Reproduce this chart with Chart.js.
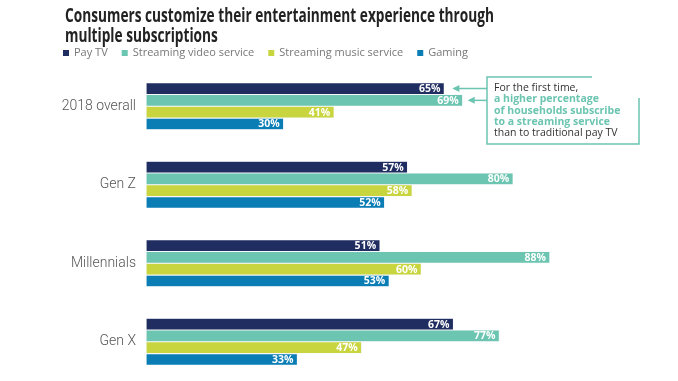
<!DOCTYPE html>
<html><head><meta charset="utf-8">
<script src="https://cdn.jsdelivr.net/npm/chart.js@4.4.1/dist/chart.umd.min.js"></script>
<style>html,body{margin:0;padding:0;background:#fff;overflow:hidden}#wrap{width:678px;height:381px;position:relative}</style>
</head><body><div id="wrap"><canvas id="c" width="678" height="381"></canvas></div>
<script>
const titleLines = ['Consumers customize their entertainment experience through', 'multiple subscriptions'];
const categories = ['2018 overall', 'Gen Z', 'Millennials', 'Gen X'];
const seriesNames = ['Pay TV', 'Streaming video service', 'Streaming music service', 'Gaming'];
const payTV = [65, 57, 51, 67];
const streamingVideo = [69, 80, 88, 77];
const streamingMusic = [41, 58, 60, 47];
const gaming = [30, 52, 53, 33];
const colors = ['#1f2d61', '#6cc5b1', '#c8d53f', '#0a7db5'];
const noteLines = [
  {t: 'For the first time,', hl: false},
  {t: 'a higher percentage', hl: true},
  {t: 'of households subscribe', hl: true},
  {t: 'to a streaming service', hl: true},
  {t: 'than to traditional pay TV', hl: false}
];
const teal = '#6cc5b1';

const values = [payTV, streamingVideo, streamingMusic, gaming];
const datasets = seriesNames.map((n, i) => ({
  label: n, data: values[i], backgroundColor: colors[i],
  borderColor: 'rgba(235,240,245,0.9)', borderWidth: 0.6, borderSkipped: false,
  categoryPercentage: 0.6, barPercentage: 1.0
}));

const extras = {
  id: 'extras',
  afterDatasetsDraw(chart) {
    const ctx = chart.ctx;
    ctx.save();
    ctx.font = 'bold 10.5px "Open Sans", sans-serif';
    ctx.fillStyle = '#fff';
    ctx.textAlign = 'right';
    ctx.textBaseline = 'middle';
    chart.data.datasets.forEach((ds, di) => {
      chart.getDatasetMeta(di).data.forEach((bar, i) => {
        ctx.fillText(ds.data[i] + '%', bar.x - 4, bar.y + 0.5);
      });
    });
    ctx.restore();
  },
  afterDraw(chart) {
    const ctx = chart.ctx;
    ctx.save();
    ctx.font = 'bold 19px "Open Sans", sans-serif';
    ctx.textBaseline = 'middle';
    ctx.textAlign = 'left';
    ctx.fillStyle = '#222';
    const w0 = ctx.measureText(titleLines[0]).width;
    const sx = 429 / w0;
    ctx.save();
    ctx.translate(65, 0);
    ctx.scale(sx, 1);
    ctx.fillText(titleLines[0], 0, 17);
    ctx.fillText(titleLines[1], 0, 37);
    ctx.restore();
    ctx.font = '11px "Open Sans", sans-serif';
    let lx = 63;
    const ly = 53;
    chart.data.datasets.forEach(ds => {
      ctx.fillStyle = ds.backgroundColor;
      ctx.fillRect(lx, ly - 3, 6, 6);
      ctx.fillStyle = '#777';
      ctx.fillText(ds.label, lx + 11, ly);
      lx += 11 + ctx.measureText(ds.label).width + 14;
    });
    ctx.strokeStyle = teal;
    ctx.lineWidth = 1.5;
    ctx.beginPath();
    ctx.moveTo(592, 77); ctx.lineTo(487, 77); ctx.lineTo(487, 144); ctx.lineTo(639, 144); ctx.lineTo(639, 98);
    ctx.stroke();
    const m0 = chart.getDatasetMeta(0).data[0];
    const m1 = chart.getDatasetMeta(1).data[0];
    [[m0, 8], [m1, 5]].forEach(([bar, off]) => {
      const tip = bar.x + off;
      const y = bar.y;
      ctx.beginPath(); ctx.moveTo(487, y); ctx.lineTo(tip + 2, y); ctx.stroke();
      ctx.fillStyle = teal;
      ctx.beginPath(); ctx.moveTo(tip, y); ctx.lineTo(tip + 7, y - 3.5); ctx.lineTo(tip + 7, y + 3.5); ctx.closePath(); ctx.fill();
    });
    noteLines.forEach((l, i) => {
      ctx.font = (l.hl ? 'bold ' : '') + '10.5px "Open Sans", sans-serif';
      ctx.fillStyle = l.hl ? teal : '#333';
      ctx.fillText(l.t, 494, 88 + i * 11.3);
    });
    ctx.restore();
  }
};

new Chart(document.getElementById('c'), {
  type: 'bar',
  data: { labels: categories, datasets },
  options: {
    indexAxis: 'y',
    responsive: false,
    animation: false,
    layout: { padding: { left: 0, top: 67, bottom: 0, right: 73 } },
    scales: {
      x: { display: false, min: 0, max: 100 },
      y: {
        grid: { display: false, drawTicks: false }, border: { display: false },
        ticks: { color: '#555', font: { family: 'Roboto, sans-serif', size: 14, weight: 300 }, padding: 10 },
        afterFit(s) { s.width = 146; s.paddingTop = 0; s.paddingBottom = 0; }
      }
    },
    plugins: {
      legend: { display: false },
      tooltip: { enabled: false }
    }
  },
  plugins: [extras]
});
</script></body></html>
